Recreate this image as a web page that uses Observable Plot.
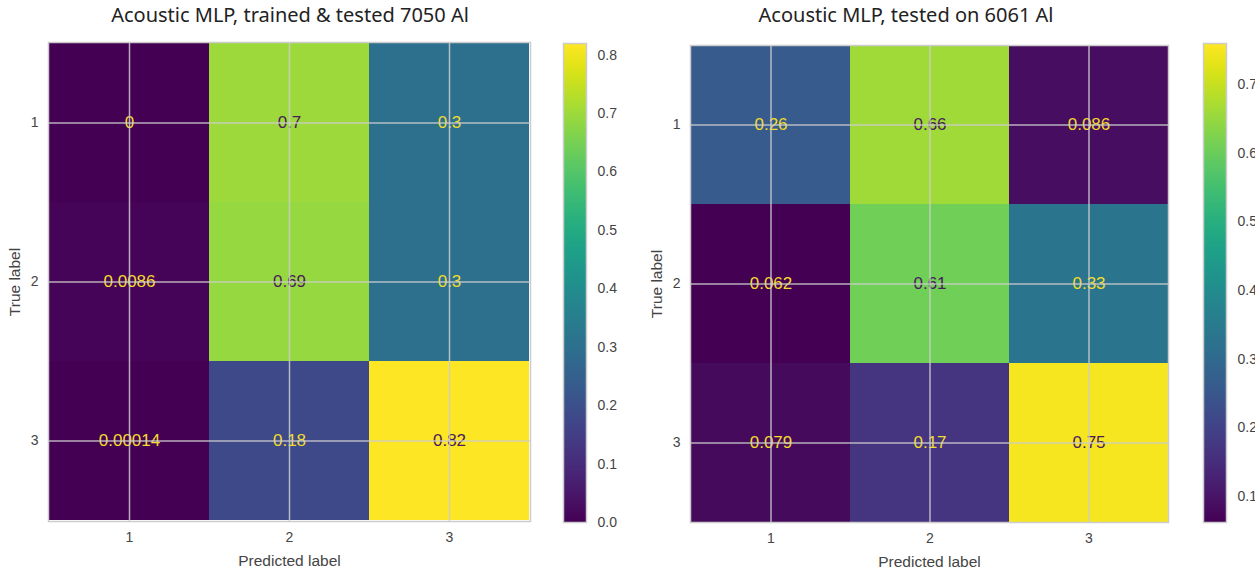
<!DOCTYPE html>
<html>
<head>
<meta charset="utf-8">
<script src="https://cdn.jsdelivr.net/npm/d3@7"></script>
<script src="https://cdn.jsdelivr.net/npm/@observablehq/plot@0.6"></script>
<style>
  body { margin: 0; background: white; }
  #wrap { position: relative; width: 1255px; height: 570px; overflow: hidden; background: white; }
  .panel { position: absolute; top: 0; }
  .title { position: absolute; top: 1px; font-family: "Noto Sans", sans-serif; font-size: 20px; color: #222; white-space: nowrap; transform: translateX(-50%); }
</style>
</head>
<body>
<div id="wrap"></div>
<script>
// ---- data ----
const labels = [1, 2, 3];
const titleLeft = "Acoustic MLP, trained & tested 7050 Al";
const titleRight = "Acoustic MLP, tested on 6061 Al";
// rows = true label, columns = predicted label
const leftMatrix = [
  [0, 0.7, 0.3],
  [0.0086, 0.69, 0.3],
  [0.00014, 0.18, 0.82]
];
const rightMatrix = [
  [0.26, 0.66, 0.086],
  [0.062, 0.61, 0.33],
  [0.079, 0.17, 0.75]
];
const leftColorDomain = [0, 0.82];
const rightColorDomain = [0.062, 0.76];
const leftColorTicks = [0, 0.1, 0.2, 0.3, 0.4, 0.5, 0.6, 0.7, 0.8];
const rightColorTicks = [0.1, 0.2, 0.3, 0.4, 0.5, 0.6, 0.7];

const wrap = document.getElementById("wrap");
const fontFamily = "'Liberation Sans', Arial, sans-serif";
const fmt = d3.format(".2~g");

function toTable(m) {
  const out = [];
  m.forEach((row, i) => row.forEach((v, j) => out.push({t: labels[i], p: labels[j], v})));
  return out;
}

function matrixPlot(matrix, domain, m) {
  const data = toTable(matrix);
  const thresh = (domain[0] + domain[1]) / 2;
  return Plot.plot({
    width: m.width, height: 570,
    marginLeft: m.left, marginRight: m.right, marginTop: m.top, marginBottom: m.bottom,
    style: {fontFamily, background: "transparent", overflow: "visible"},
    x: {domain: labels, padding: 0, axis: null},
    y: {domain: labels, padding: 0, axis: null},
    color: {type: "linear", scheme: "viridis", domain},
    marks: [
      Plot.cell(data, {x: "p", y: "t", fill: "v", inset: 0}),
      Plot.text(data, {x: "p", y: "t", text: d => fmt(d.v), fontSize: 17,
        fill: d => d.v < thresh ? "#f2dc2c" : "#4a1a5c"}),
      Plot.ruleX(labels, {x: d => d, stroke: "#cccccc", strokeWidth: 1.5, strokeOpacity: 0.85}),
      Plot.ruleY(labels, {y: d => d, stroke: "#cccccc", strokeWidth: 1.5, strokeOpacity: 0.85}),
      Plot.frame({stroke: "#cccccc", strokeWidth: 1.5}),
      Plot.axisX({tickSize: 0, tickPadding: 11, fontSize: 14, fill: "#444", label: null}),
      Plot.axisY({tickSize: 0, tickPadding: 10, fontSize: 14, fill: "#444", label: null}),
      Plot.axisX({ticks: [], label: "Predicted label", labelAnchor: "center", labelOffset: 44, fontSize: 15.5, fill: "#444", labelArrow: "none"}),
      Plot.axisY({ticks: [], label: "True label", labelAnchor: "center", labelOffset: m.ylabelOffset, fontSize: 15.5, fill: "#444", labelArrow: "none"})
    ]
  });
}

function colorbar(domain, ticks, m) {
  return Plot.plot({
    width: m.width, height: 570,
    marginLeft: m.left, marginRight: m.right, marginTop: m.top, marginBottom: m.bottom,
    style: {fontFamily, background: "transparent", overflow: "visible"},
    x: {domain: [0, 1], axis: null},
    y: {domain, axis: null},
    color: {type: "linear", scheme: "viridis", domain},
    marks: [
      Plot.raster({x1: 0, x2: 1, y1: domain[0], y2: domain[1], width: 1, height: 480,
        fill: (x, y) => y, imageRendering: "auto"}),
      Plot.frame({stroke: "#cccccc", strokeWidth: 1.5}),
      Plot.axisY(ticks, {anchor: "right", tickSize: 0, tickPadding: 11, fontSize: 14, fill: "#444",
        tickFormat: d3.format(".1f"), label: null})
    ]
  });
}

function place(node, left) {
  const d = document.createElement("div");
  d.className = "panel";
  d.style.left = left + "px";
  d.appendChild(node);
  wrap.appendChild(d);
}

place(matrixPlot(leftMatrix, leftColorDomain, {width: 545, left: 48, right: 15, top: 42, bottom: 49, ylabelOffset: 40}), 0);
place(colorbar(leftColorDomain, leftColorTicks, {width: 90, left: 13, right: 54, top: 43, bottom: 48}), 550);
place(matrixPlot(rightMatrix, rightColorDomain, {width: 545, left: 50, right: 17, top: 45, bottom: 48, ylabelOffset: 40}), 640);
place(colorbar(rightColorDomain, rightColorTicks, {width: 65, left: 13, right: 29, top: 43, bottom: 48}), 1190);

function addTitle(text, cx) {
  const t = document.createElement("div");
  t.className = "title";
  t.style.left = cx + "px";
  t.textContent = text;
  wrap.appendChild(t);
}
addTitle(titleLeft, 290);
addTitle(titleRight, 906);
</script>
</body>
</html>
